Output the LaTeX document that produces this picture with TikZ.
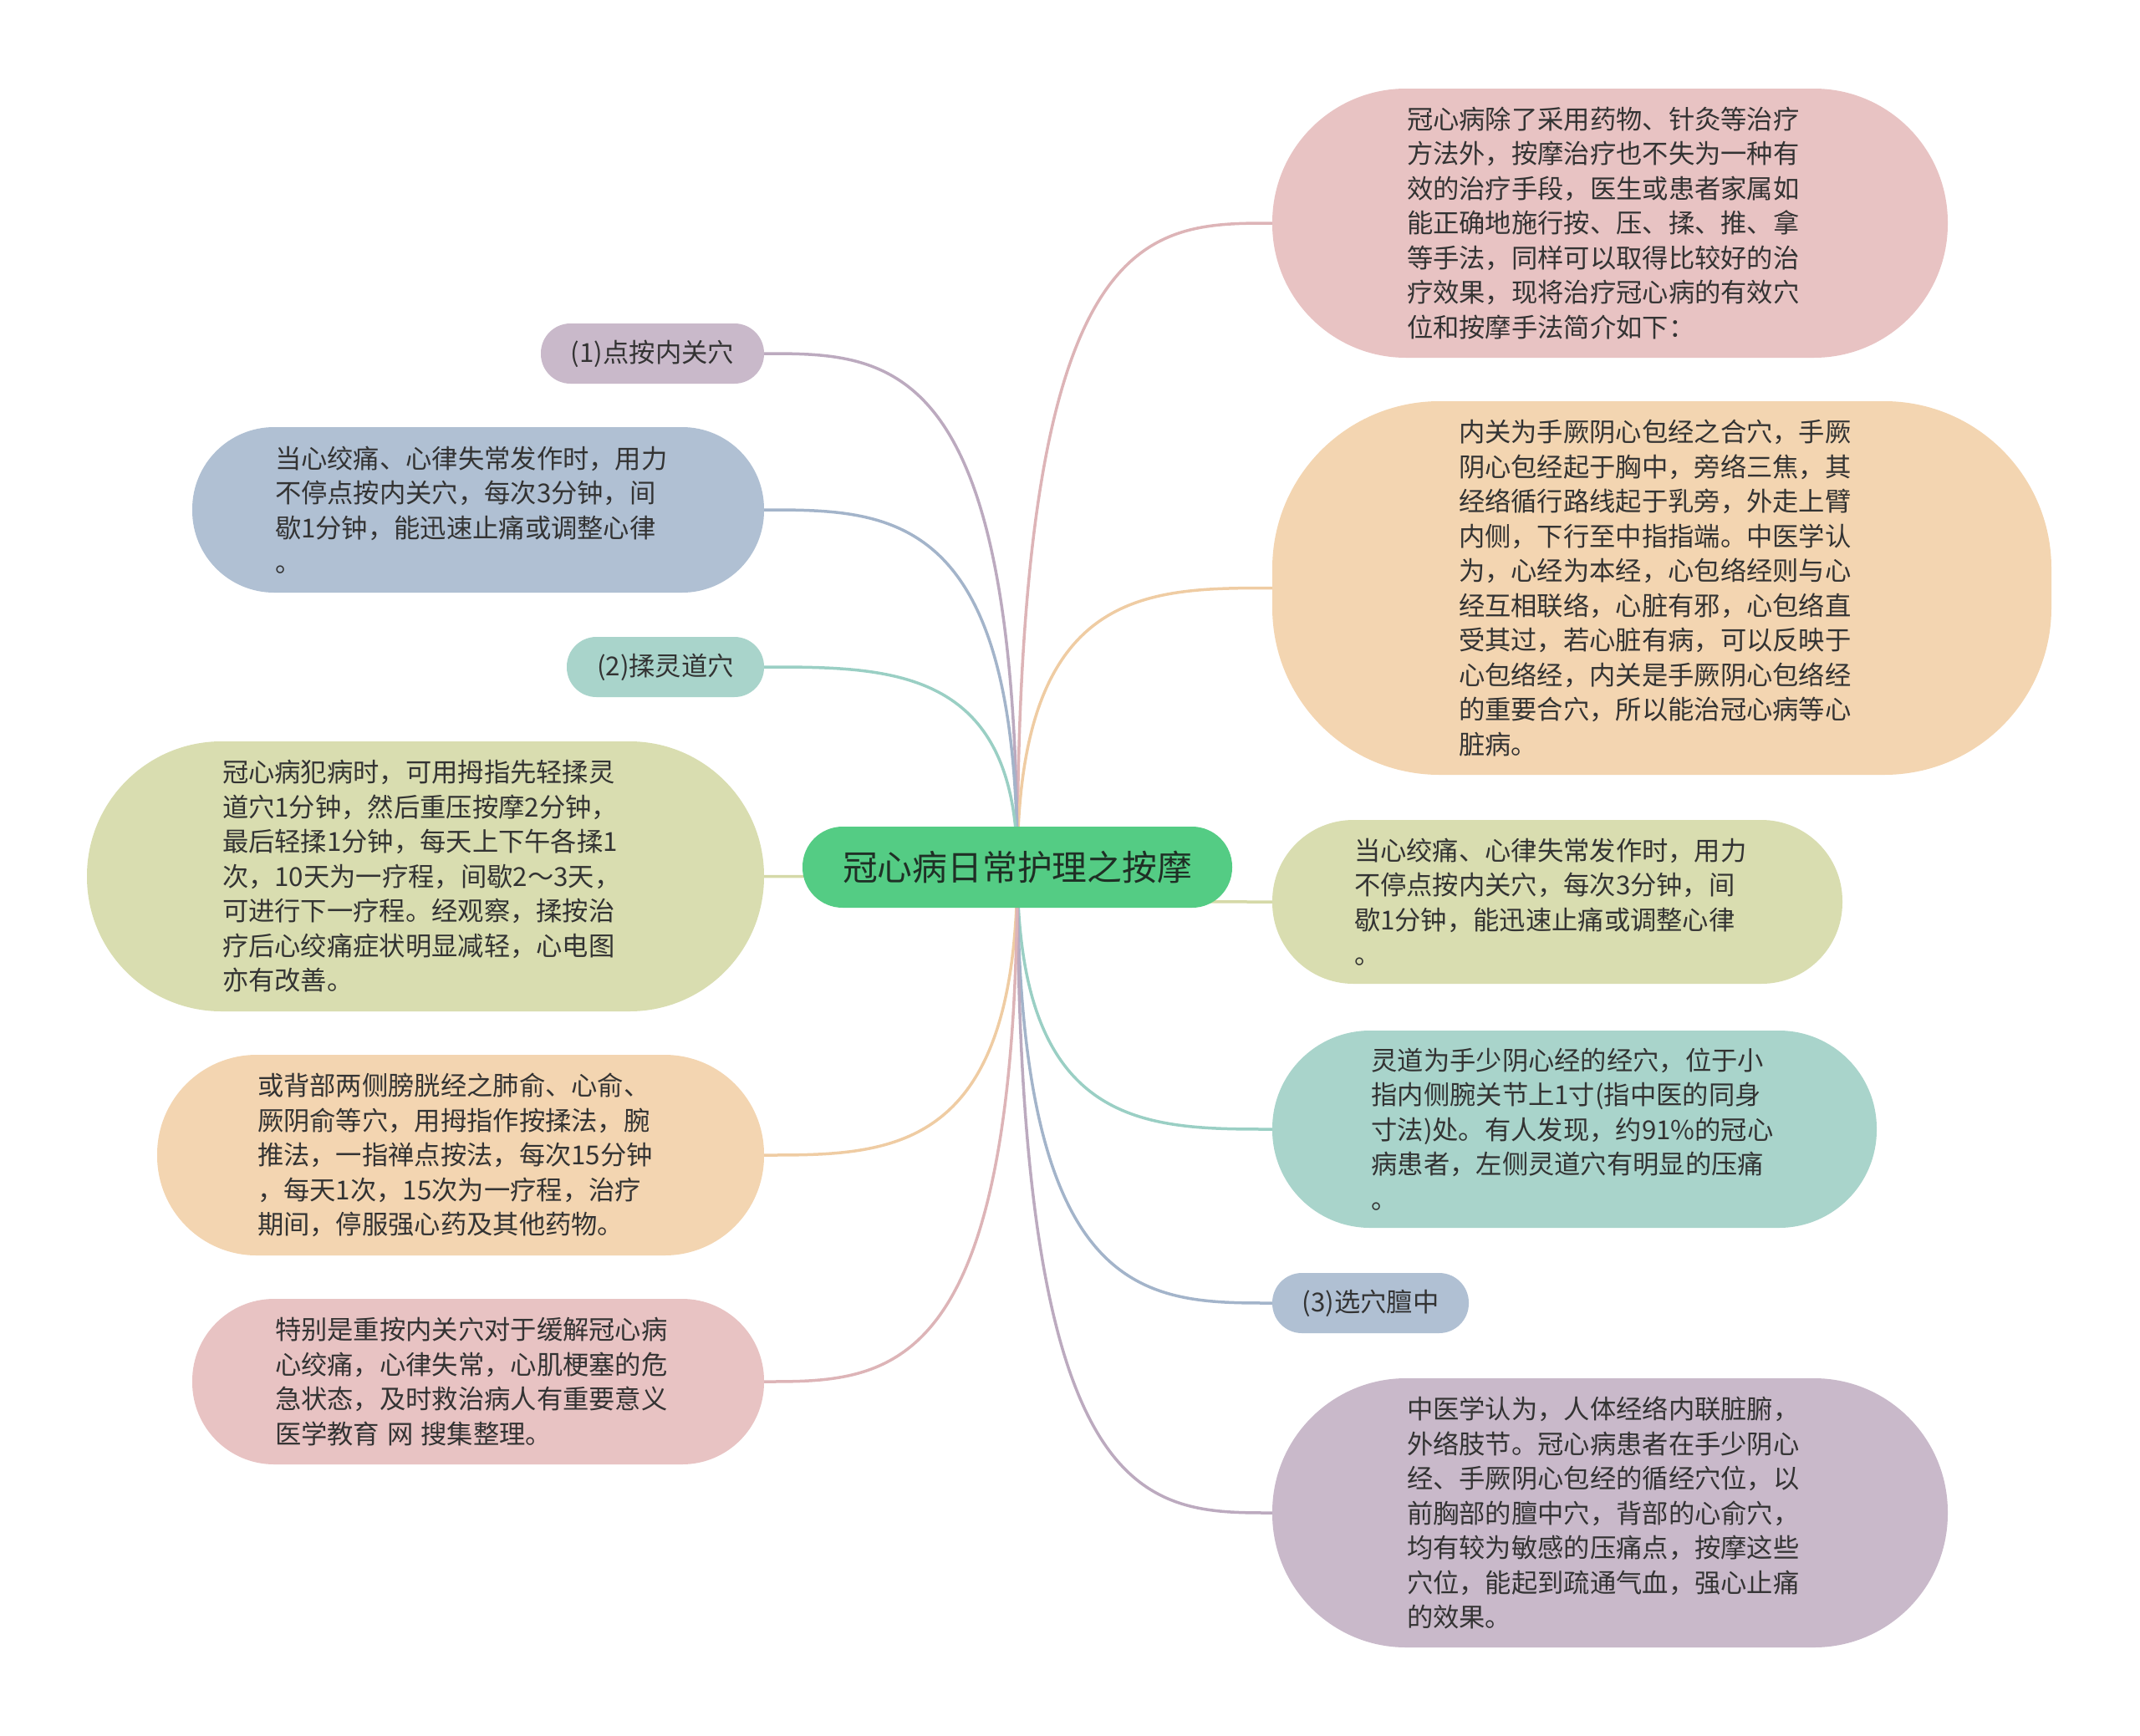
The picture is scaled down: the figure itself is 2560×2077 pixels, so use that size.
\documentclass[tikz,border=0pt]{standalone}
\usepackage{fontspec}
\setmainfont{Noto Sans CJK SC}
\usetikzlibrary{calc,backgrounds}
\definecolor{pinkf}{HTML}{E8C3C3}
\definecolor{peachf}{HTML}{F3D5B1}
\definecolor{olivef}{HTML}{D9DDB0}
\definecolor{tealf}{HTML}{A9D4CB}
\definecolor{bluef}{HTML}{B0C0D3}
\definecolor{mauvef}{HTML}{C9B9CA}
\definecolor{pinkl}{HTML}{DDB4B7}
\definecolor{peachl}{HTML}{EFCCA3}
\definecolor{olivel}{HTML}{D5D9A8}
\definecolor{teall}{HTML}{9ACFC4}
\definecolor{bluel}{HTML}{A3B4CA}
\definecolor{mauvel}{HTML}{BCAABF}
\definecolor{rootf}{HTML}{54CC84}
\definecolor{roottxt}{HTML}{1F2F25}
\definecolor{txt}{HTML}{333333}
\tikzset{
  lbl/.style={rounded corners=#1, inner sep=0pt, align=left, text=txt,
    font=\fontsize{31.3}{41.5}\selectfont},
  bub/.style={lbl=#1, text width=486pt},
  con/.style={line width=3.5pt, line cap=round}
}
\newcommand\rconn[2]{\draw[con,#2] (root.center) .. controls (root.center |- #1.west) and ($(root.center |- #1.west)!0.5!(#1.west)$) .. (#1.west);}
\newcommand\lconn[2]{\draw[con,#2] (root.center) .. controls (root.center |- #1.east) and ($(root.center |- #1.east)!0.5!(#1.east)$) .. (#1.east);}
\begin{document}
\begin{tikzpicture}[x=1pt,y=-1pt]
\useasboundingbox (0,0) rectangle (2560,2077);

% root
\node[rounded corners=48pt, fill=rootf, minimum width=514pt, minimum height=97pt,
  inner sep=0pt, text=roottxt, font=\fontsize{41.8}{50}\selectfont] (root) at (1217,1037.5) {冠心病日常护理之按摩};

% right side
\node[bub=160pt, fill=pinkf, minimum width=808pt, minimum height=322pt] (r1) at (1926,267) {冠心病除了采用药物、针灸等治疗\\方法外，按摩治疗也不失为一种有\\效的治疗手段，医生或患者家属如\\能正确地施行按、压、揉、推、拿\\等手法，同样可以取得比较好的治\\疗效果，现将治疗冠心病的有效穴\\位和按摩手法简介如下：};

\node[bub=200pt, fill=peachf, minimum width=932pt, minimum height=447pt] (r2) at (1988,703.5) {内关为手厥阴心包经之合穴，手厥\\阴心包经起于胸中，旁络三焦，其\\经络循行路线起于乳旁，外走上臂\\内侧，下行至中指指端。中医学认\\为，心经为本经，心包络经则与心\\经互相联络，心脏有邪，心包络直\\受其过，若心脏有病，可以反映于\\心包络经，内关是手厥阴心包络经\\的重要合穴，所以能治冠心病等心\\脏病。};

\node[bub=97pt, fill=olivef, minimum width=682pt, minimum height=196pt] (r3) at (1863,1079) {当心绞痛、心律失常发作时，用力\\不停点按内关穴，每次3分钟，间\\歇1分钟，能迅速止痛或调整心律\\。};

\node[bub=117pt, fill=tealf, minimum width=723pt, minimum height=236pt] (r4) at (1883.5,1351) {灵道为手少阴心经的经穴，位于小\\指内侧腕关节上1寸(指中医的同身\\寸法)处。有人发现，约91\%的冠心\\病患者，左侧灵道穴有明显的压痛\\。};

\node[lbl=35.5pt, fill=bluef, minimum width=235pt, minimum height=72pt] (r5) at (1639.5,1559) {(3)选穴膻中};

\node[bub=160pt, fill=mauvef, minimum width=808pt, minimum height=322pt] (r6) at (1926,1810) {中医学认为，人体经络内联脏腑，\\外络肢节。冠心病患者在手少阴心\\经、手厥阴心包经的循经穴位，以\\前胸部的膻中穴，背部的心俞穴，\\均有较为敏感的压痛点，按摩这些\\穴位，能起到疏通气血，强心止痛\\的效果。};

% left side
\node[lbl=35.5pt, fill=mauvef, minimum width=267pt, minimum height=72pt] (l1) at (780.5,423) {(1)点按内关穴};

\node[bub=98pt, fill=bluef, minimum width=684pt, minimum height=198pt] (l2) at (572,610) {当心绞痛、心律失常发作时，用力\\不停点按内关穴，每次3分钟，间\\歇1分钟，能迅速止痛或调整心律\\。};

\node[lbl=35.5pt, fill=tealf, minimum width=236pt, minimum height=72pt] (l3) at (796,798) {(2)揉灵道穴};

\node[bub=161pt, fill=olivef, minimum width=810pt, minimum height=323pt] (l4) at (509,1048.5) {冠心病犯病时，可用拇指先轻揉灵\\道穴1分钟，然后重压按摩2分钟，\\最后轻揉1分钟，每天上下午各揉1\\次，10天为一疗程，间歇2～3天，\\可进行下一疗程。经观察，揉按治\\疗后心绞痛症状明显减轻，心电图\\亦有改善。};

\node[bub=119pt, fill=peachf, minimum width=726pt, minimum height=240pt] (l5) at (551,1382) {或背部两侧膀胱经之肺俞、心俞、\\厥阴俞等穴，用拇指作按揉法，腕\\推法，一指禅点按法，每次15分钟\\，每天1次，15次为一疗程，治疗\\期间，停服强心药及其他药物。};

\node[bub=98pt, fill=pinkf, minimum width=684pt, minimum height=198pt] (l6) at (572,1653) {特别是重按内关穴对于缓解冠心病\\心绞痛，心律失常，心肌梗塞的危\\急状态，及时救治病人有重要意义\\医学教育\hspace{9pt}网\hspace{9pt}搜集整理。};

% connectors
\begin{pgfonlayer}{background}
\rconn{r1}{pinkl}
\rconn{r2}{peachl}
\rconn{r3}{olivel}
\rconn{r4}{teall}
\rconn{r5}{bluel}
\rconn{r6}{mauvel}
\lconn{l1}{mauvel}
\lconn{l2}{bluel}
\lconn{l3}{teall}
\lconn{l4}{olivel}
\lconn{l5}{peachl}
\lconn{l6}{pinkl}
\end{pgfonlayer}
\end{tikzpicture}
\end{document}
